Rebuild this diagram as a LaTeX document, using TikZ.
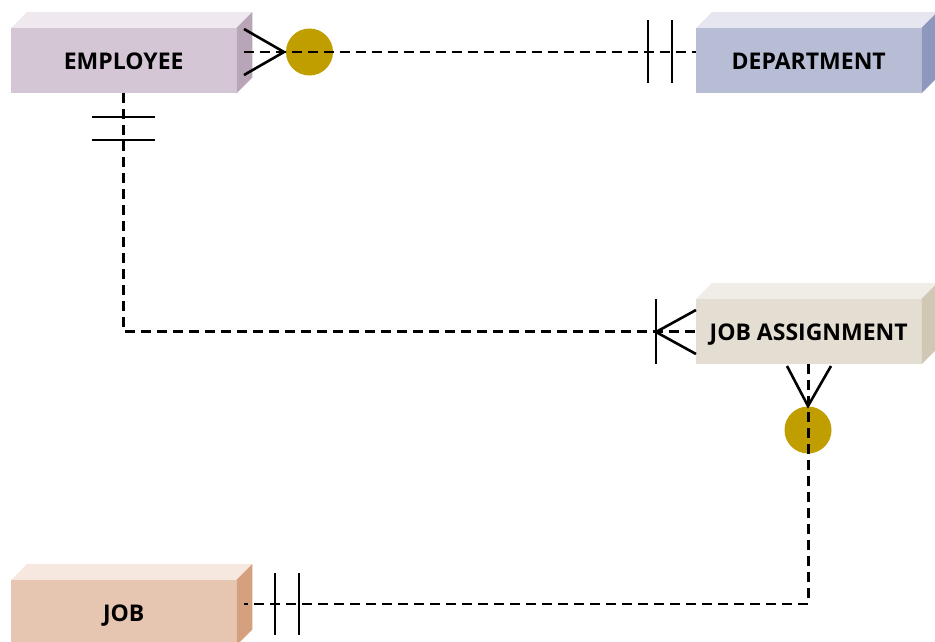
\documentclass[tikz,border=0pt]{standalone}
\usepackage{fontspec}
\setmainfont{Open Sans}
\usetikzlibrary{calc}
\definecolor{empF}{RGB}{213,198,213}
\definecolor{empT}{RGB}{239,233,239}
\definecolor{empS}{RGB}{184,165,184}
\definecolor{depF}{RGB}{184,189,214}
\definecolor{depT}{RGB}{230,230,240}
\definecolor{depS}{RGB}{142,152,191}
\definecolor{jaF}{RGB}{227,221,210}
\definecolor{jaT}{RGB}{240,237,231}
\definecolor{jaS}{RGB}{208,200,181}
\definecolor{jobF}{RGB}{230,198,176}
\definecolor{jobT}{RGB}{247,232,223}
\definecolor{jobS}{RGB}{212,160,126}
\definecolor{dotc}{RGB}{192,158,0}
\tikzset{
  ent/.style={draw=none, minimum width=225pt, minimum height=65pt, anchor=north west, inner sep=0pt,
    font=\fontsize{23}{23}\selectfont\bfseries, text=black},
  lbl/.style={font=\fontsize{23}{23}\selectfont\bfseries, text=black, inner sep=0pt, text depth=0pt, anchor=base},
  conn/.style={line width=2.6pt, dash pattern=on 10pt off 6pt},
  solidline/.style={line width=2.6pt},
  dotnode/.style={circle, fill=dotc, draw=none, minimum size=47pt, inner sep=0pt},
}
\newcommand{\boxfaces}[4]{%
  \fill[#2] (#1.north west) -- ++(16,-16) -- ($(#1.north east)+(16,-16)$) -- (#1.north east) -- cycle;
  \fill[#3] (#1.north east) -- ++(16,-16) -- ($(#1.south east)+(16,-16)$) -- (#1.south east) -- cycle;
  \fill[#4] (#1.north west) rectangle (#1.south east);
}
\begin{document}
\begin{tikzpicture}[x=1pt,y=-1pt]
\path[use as bounding box, clip] (0,0) rectangle (935,641);
\fill[white] (0,0) rectangle (935,641);
% entities
\node[ent] (emp) at (11,28) {};
\node[ent] (dept) at (696,28) {};
\node[ent] (ja) at (696,299) {};
\node[ent] (job) at (11,580) {};
\boxfaces{emp}{empT}{empS}{empF}
\boxfaces{dept}{depT}{depS}{depF}
\boxfaces{ja}{jaT}{jaS}{jaF}
\boxfaces{job}{jobT}{jobS}{jobF}
\node[lbl] (empl) at ($(emp.center)+(0,8.5)$) {EMPLOYEE};
\node[lbl] (deptl) at ($(dept.center)+(0,8.5)$) {DEPARTMENT};
\node[lbl] (jal) at ($(ja.center)+(0,8.5)$) {JOB ASSIGNMENT};
\node[lbl] (jobl) at ($(job.center)+(0,8.5)$) {JOB};
% optionality circles
\node[dotnode] (c1) at (309.5,52) {};
\node[dotnode] (c2) at (808,430) {};
% connector end points on side faces
\coordinate (ea) at (244,52);
\coordinate (jb) at (244,604);
% EMPLOYEE -- DEPARTMENT
\draw[conn] (ea) -- (ea -| dept.west);
\draw[solidline] (244,29) -- (284,52) -- (244,75);
\draw[solidline] (648,20) -- (648,83);
\draw[solidline] (672,20) -- (672,83);
% EMPLOYEE -- JOB ASSIGNMENT
\draw[conn] ([xshift=-0.5pt]emp.south) |- (ja.west);
\draw[solidline] (92,117) -- (155,117);
\draw[solidline] (92,140) -- (155,140);
\draw[solidline] (696,310) -- (656,332) -- (696,354);
\draw[solidline] (656,299) -- (656,364);
% JOB ASSIGNMENT -- JOB
\draw[conn] ([xshift=-0.5pt]ja.south) |- (jb);
\draw[solidline] (787,366) -- (808,406) -- (831,366);
\draw[solidline] (275,573) -- (275,635);
\draw[solidline] (299,573) -- (299,635);
\end{tikzpicture}
\end{document}
